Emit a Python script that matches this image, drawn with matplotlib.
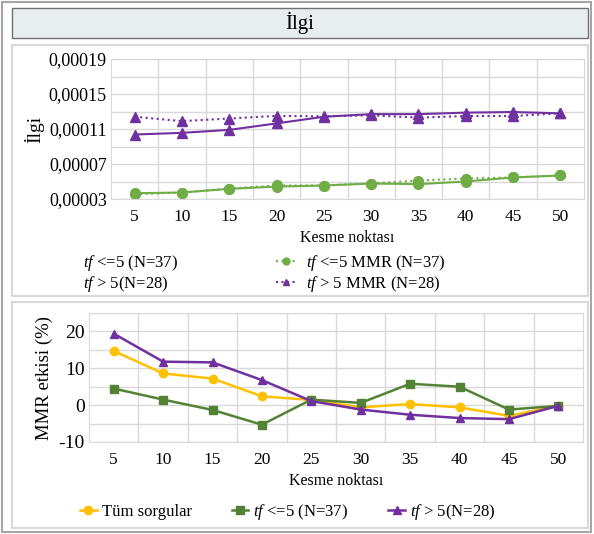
import matplotlib
matplotlib.use("Agg")
import matplotlib.pyplot as plt
from matplotlib.patches import Rectangle
from matplotlib.lines import Line2D
from matplotlib.ticker import FuncFormatter

plt.rcParams["font.family"] = ["Liberation Serif", "DejaVu Serif"]
plt.rcParams["mathtext.fontset"] = "custom"
plt.rcParams["mathtext.rm"] = "Liberation Serif"
plt.rcParams["mathtext.it"] = "Liberation Serif:italic"
plt.rcParams["axes.unicode_minus"] = False

# Data
cutoffs = ["5", "10", "15", "20", "25", "30", "35", "40", "45", "50"]

ilgi_low = [0.0000366, 0.0000374, 0.0000416, 0.0000442, 0.0000454,
            0.0000477, 0.0000470, 0.0000500, 0.0000546, 0.0000569]
ilgi_high = [0.0001037, 0.0001056, 0.0001090, 0.0001164, 0.0001240,
             0.0001270, 0.0001270, 0.0001287, 0.0001294, 0.0001279]
ilgi_low_mmr = [0.0000355, 0.0000374, 0.0000420, 0.0000455, 0.0000454,
                0.0000477, 0.0000511, 0.0000534, 0.0000546, 0.0000569]
ilgi_high_mmr = [0.0001240, 0.0001190, 0.0001220, 0.0001250, 0.0001245,
                 0.0001256, 0.0001230, 0.0001248, 0.0001248, 0.0001279]

effect_all = [14.7, 8.6, 7.2, 2.4, 1.4, -0.6, 0.3, -0.6, -2.9, -0.2]
effect_low = [4.5, 1.5, -1.3, -5.3, 1.5, 0.6, 5.8, 5.0, -1.2, -0.2]
effect_high = [19.4, 11.8, 11.6, 6.8, 1.1, -1.2, -2.6, -3.5, -3.8, -0.2]

W, H = 594, 534
PURPLE = "#7030A0"
LGREEN = "#70AD47"
DGREEN = "#548235"
YELLOW = "#FFC000"
GRID = "#d9d9d9"


def box(l, t, r, b):
    return [l / W, 1 - b / H, (r - l) / W, (b - t) / H]


def rect(fig, l, t, r, b, fc="none", ec=GRID, lw=1.0):
    x, y, w, h = box(l, t, r, b)
    fig.add_artist(Rectangle((x, y), w, h, transform=fig.transFigure,
                             facecolor=fc, edgecolor=ec, linewidth=lw))


fig = plt.figure(figsize=(W / 100, H / 100), dpi=100)

# Frames
rect(fig, 2, 2, 591, 532, ec="#a6a6a6", lw=1.5)
rect(fig, 12, 8, 588, 38, fc="#e8eeee", ec="#707070", lw=1.0)
rect(fig, 12, 45, 588, 296, ec=GRID, lw=1.5)
rect(fig, 12, 302, 588, 528, ec=GRID, lw=1.5)
fig.text(300 / W, 1 - 23 / H, "İlgi", ha="center", va="center", fontsize=15)

x = list(range(len(cutoffs)))


def style_axes(ax):
    ax.set_xlim(-0.5, len(cutoffs) - 0.5)
    ax.set_xticks(x)
    ax.set_xticklabels(cutoffs)
    ax.set_xticks([i + 0.5 for i in x[:-1]], minor=True)
    ax.grid(True, which="minor", color=GRID, linewidth=1.0)
    ax.grid(True, which="major", axis="y", color=GRID, linewidth=1.0)
    ax.tick_params(which="both", length=0)
    ax.tick_params(axis="x", labelsize=12.5, pad=7)
    for s in ax.spines.values():
        s.set_color(GRID)
    ax.set_axisbelow(True)


# Top panel: Ilgi
ax1 = fig.add_axes(box(111, 59, 584, 199))
ax1.plot(x, ilgi_low, color=LGREEN, lw=1.5, marker="o", ms=7)
ax1.plot(x, ilgi_high, color=PURPLE, lw=1.5, marker="^", ms=7)
ax1.plot(x, ilgi_low_mmr, color=LGREEN, lw=1.5, ls=":", marker="o", ms=7)
ax1.plot(x, ilgi_high_mmr, color=PURPLE, lw=1.5, ls=":", marker="^", ms=7)
style_axes(ax1)
ax1.set_ylim(0.00003, 0.00019)
ax1.set_yticks([0.00003, 0.00007, 0.00011, 0.00015, 0.00019])
ax1.set_yticks([0.00005, 0.00009, 0.00013, 0.00017], minor=True)
ax1.yaxis.set_major_formatter(FuncFormatter(lambda v, p: f"{v:.5f}".replace(".", ",")))
ax1.tick_params(axis="y", labelsize=13, pad=3)
ax1.set_xlabel("Kesme noktası", fontsize=11.5, labelpad=4)
ax1.set_ylabel("İlgi", fontsize=14, labelpad=3)

h_none = Line2D([], [], linestyle="none")
h_low_mmr = Line2D([], [], color=LGREEN, lw=1.5, ls=":", marker="o", ms=5)
h_high_mmr = Line2D([], [], color=PURPLE, lw=1.5, ls=":", marker="^", ms=5)
fig.legend([h_none, h_none, h_low_mmr, h_high_mmr],
           ["$tf$ <=5 (N=37)", "$tf$ > 5(N=28)",
            "$tf$ <=5 MMR (N=37)", "$tf$ > 5 MMR (N=28)"],
           ncol=2, loc="upper left", bbox_to_anchor=(53 / W, 1 - 253 / H),
           frameon=False, fontsize=12, handlelength=1.2, handletextpad=0.6,
           columnspacing=5.9, labelspacing=0.05, borderpad=0, borderaxespad=0)

# Bottom panel: MMR effect
ax2 = fig.add_axes(box(89, 313, 583, 442))
ax2.plot(x, effect_all, color=YELLOW, lw=1.8, marker="o", ms=6, label="Tüm sorgular")
ax2.plot(x, effect_low, color=DGREEN, lw=1.8, marker="s", ms=6, label="$tf$ <=5 (N=37)")
ax2.plot(x, effect_high, color=PURPLE, lw=1.8, marker="^", ms=6, label="$tf$ > 5(N=28)")
style_axes(ax2)
ax2.set_ylim(-10, 25)
ax2.set_yticks([-10, 0, 10, 20])
ax2.set_yticks([-5, 5, 15, 25], minor=True)
ax2.tick_params(axis="y", labelsize=14, pad=3)
ax2.set_xlabel("Kesme noktası", fontsize=11.5, labelpad=4)
ax2.set_ylabel("MMR etkisi (%)", fontsize=13.5, labelpad=4)
fig.legend(loc="upper left", bbox_to_anchor=(80 / W, 1 - 502 / H), ncol=3,
           handles=ax2.get_lines(), frameon=False, fontsize=12,
           handlelength=1.0, handletextpad=0.3, columnspacing=2.4,
           borderpad=0, borderaxespad=0)

fig.savefig("out.png", dpi=100)
